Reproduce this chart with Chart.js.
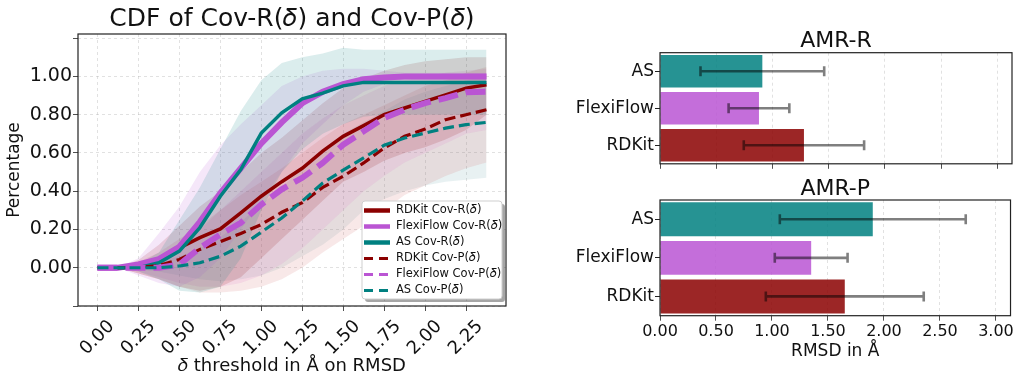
<!DOCTYPE html>
<html>
<head>
<meta charset="utf-8">
<script src="https://cdn.jsdelivr.net/npm/chart.js@4.4.1/dist/chart.umd.min.js"></script>
<style>
body { margin:0; background:#fff; width:1016px; height:377px; overflow:hidden; position:relative; }
canvas { position:absolute; }
</style>
</head>
<body>
<canvas id="cdf" width="520" height="377" style="left:0;top:0"></canvas>
<canvas id="amrR" width="456" height="175" style="left:560px;top:0"></canvas>
<canvas id="amrP" width="456" height="202" style="left:560px;top:175px"></canvas>
<script>
// thresholds (Å) and CDF curves
var thresholds = [0,0.125,0.25,0.375,0.5,0.625,0.75,0.875,1.0,1.125,1.25,1.375,1.5,1.625,1.75,1.875,2.0,2.125,2.25,2.375];
var rdkitR = [0,0,0.005,0.043,0.104,0.157,0.203,0.287,0.374,0.45,0.52,0.61,0.687,0.743,0.80,0.835,0.87,0.904,0.939,0.957];
var flexiR = [0,0,0.017,0.045,0.11,0.24,0.39,0.52,0.65,0.76,0.86,0.92,0.96,0.985,0.995,1,1,1,1,1];
var asR    = [0,0,0,0.026,0.087,0.21,0.374,0.513,0.704,0.81,0.883,0.913,0.951,0.969,0.969,0.969,0.969,0.969,0.969,0.969];
var rdkitP = [0,0,0,0.012,0.043,0.096,0.136,0.179,0.226,0.29,0.34,0.42,0.478,0.548,0.626,0.687,0.725,0.774,0.80,0.826];
var flexiP = [0,0,0,0,0.017,0.104,0.174,0.235,0.33,0.41,0.47,0.548,0.643,0.713,0.783,0.826,0.861,0.887,0.917,0.92];
var asP    = [0,0,0,0,0.009,0.026,0.06,0.113,0.186,0.26,0.348,0.443,0.51,0.575,0.64,0.678,0.704,0.73,0.748,0.76];

// spread bands (upper / lower)
var asRHi    = [0,0,0.02,0.08,0.25,0.42,0.62,0.82,0.98,1.07,1.1,1.12,1.15,1.14,1.14,1.14,1.14,1.14,1.14,1.14];
var asRLo    = [0,0,-0.02,-0.06,-0.12,-0.13,-0.1,0.05,0.3,0.5,0.62,0.7,0.75,0.79,0.8,0.8,0.8,0.8,0.8,0.8];
var flexiRHi = [0,0,0.05,0.18,0.32,0.5,0.64,0.75,0.85,0.95,1.0,1.03,1.04,1.04,1.03,1.02,1.02,1.02,1.02,1.02];
var flexiRLo = [0,0,-0.04,-0.08,-0.1,-0.05,0.05,0.2,0.35,0.5,0.65,0.75,0.85,0.92,0.96,0.98,0.98,0.98,0.98,0.98];
var rdkitRHi = [0,0,0.04,0.12,0.22,0.32,0.4,0.5,0.6,0.68,0.77,0.86,0.94,0.99,1.03,1.06,1.08,1.09,1.1,1.1];
var rdkitRLo = [0,0,-0.03,-0.06,-0.1,-0.12,-0.1,-0.05,0.05,0.15,0.25,0.35,0.45,0.5,0.56,0.6,0.63,0.67,0.72,0.8];
var rdkitPHi = [0,0,0.03,0.08,0.15,0.22,0.3,0.38,0.45,0.52,0.6,0.68,0.75,0.8,0.85,0.9,0.95,0.98,1.02,1.05];
var rdkitPLo = [0,0,-0.03,-0.06,-0.1,-0.13,-0.13,-0.12,-0.1,-0.06,0.0,0.08,0.15,0.22,0.3,0.38,0.43,0.48,0.52,0.55];
var flexiPHi = [0,0,0.02,0.06,0.12,0.2,0.3,0.4,0.5,0.6,0.7,0.78,0.85,0.9,0.95,0.98,1.0,1.02,1.03,1.04];
var flexiPLo = [0,0,-0.02,-0.05,-0.08,-0.1,-0.1,-0.08,-0.04,0.02,0.1,0.2,0.3,0.4,0.48,0.55,0.6,0.65,0.7,0.72];
var asPHi    = [0,0,0.01,0.03,0.06,0.1,0.16,0.24,0.33,0.42,0.52,0.62,0.7,0.76,0.82,0.88,0.92,0.95,0.98,1.0];
var asPLo    = [0,0,-0.01,-0.02,-0.04,-0.06,-0.07,-0.06,-0.04,0.0,0.06,0.12,0.2,0.3,0.36,0.4,0.43,0.45,0.46,0.47];

var xTicks = [0,0.25,0.5,0.75,1.0,1.25,1.5,1.75,2.0,2.25];
var yTicks = [-0.2,0,0.2,0.4,0.6,0.8,1.0,1.2];

// AMR bars
var methods = ['AS','FlexiFlow','RDKit'];
var amrR = [0.91, 0.88, 1.28];
var amrRStd = [0.55, 0.27, 0.535];
var amrP = [1.90, 1.35, 1.65];
var amrPStd = [0.83, 0.325, 0.705];
var rmsdTicks = [0,0.5,1.0,1.5,2.0,2.5,3.0];

var RED = '#8b0000', ORCHID = '#ba55d3', TEAL = '#008080';
var D = '𝛿';

Chart.defaults.font.family = '"DejaVu Sans", sans-serif';
Chart.defaults.color = '#111';
Chart.defaults.animation = false;

function pts(arr) { return thresholds.map(function(t, i) { return {x: t, y: arr[i]}; }); }

function line(label, arr, color, width, dash, order, lw) {
  return { label: label, data: pts(arr), borderColor: color, borderWidth: width, borderDash: dash,
           pointRadius: 0, fill: false, tension: 0, order: order, inLegend: true, legendWidth: lw };
}
function band(hi, lo, rgb) {
  return [
    { label: '_hi', data: pts(hi), borderWidth: 0, pointRadius: 0, fill: '+1', backgroundColor: 'rgba(' + rgb + ',0.14)', order: 10 },
    { label: '_lo', data: pts(lo), borderWidth: 0, pointRadius: 0, fill: false, order: 10 }
  ];
}

var frameBox = {
  id: 'frameBox',
  afterDraw: function(chart) {
    var a = chart.chartArea, ctx = chart.ctx;
    ctx.save();
    ctx.strokeStyle = '#222';
    ctx.lineWidth = 1.2;
    ctx.strokeRect(a.left, a.top, a.right - a.left, a.bottom - a.top);
    ctx.restore();
  }
};

var cdfLegend = {
  id: 'cdfLegend',
  afterDraw: function(chart) {
    var ctx = chart.ctx;
    var items = chart.data.datasets.filter(function(d) { return d.inLegend; });
    var x0 = 362, y0 = 201, w = 140, h = 98;
    ctx.save();
    ctx.fillStyle = 'rgba(0,0,0,0.35)';
    ctx.beginPath(); ctx.roundRect(x0 + 3, y0 + 3, w, h, 3); ctx.fill();
    ctx.fillStyle = '#fff';
    ctx.strokeStyle = '#cfcfcf';
    ctx.lineWidth = 1;
    ctx.beginPath(); ctx.roundRect(x0, y0, w, h, 3); ctx.fill(); ctx.stroke();
    ctx.font = '11.5px "DejaVu Sans"';
    ctx.textBaseline = 'middle';
    items.forEach(function(d, i) {
      var y = y0 + 9.5 + i * 16;
      ctx.strokeStyle = d.borderColor;
      ctx.lineWidth = d.legendWidth;
      ctx.setLineDash(d.borderDash.length ? [9, 6] : []);
      ctx.beginPath(); ctx.moveTo(x0 + 2, y); ctx.lineTo(x0 + 28, y); ctx.stroke();
      ctx.setLineDash([]);
      ctx.fillStyle = '#111';
      ctx.fillText(d.label, x0 + 34, y);
    });
    ctx.restore();
  }
};

var errorBars = {
  id: 'errorBars',
  afterDatasetsDraw: function(chart) {
    var ds = chart.data.datasets[0];
    var xs = chart.scales.x, ys = chart.scales.y, ctx = chart.ctx;
    ctx.save();
    ctx.strokeStyle = 'rgba(0,0,0,0.5)';
    ctx.lineWidth = 2.6;
    ctx.beginPath();
    ds.data.forEach(function(v, i) {
      var y = ys.getPixelForValue(i);
      var x1 = xs.getPixelForValue(v - ds.errors[i]);
      var x2 = xs.getPixelForValue(v + ds.errors[i]);
      ctx.moveTo(x1, y); ctx.lineTo(x2, y);
      ctx.moveTo(x1, y - 5); ctx.lineTo(x1, y + 5);
      ctx.moveTo(x2, y - 5); ctx.lineTo(x2, y + 5);
    });
    ctx.stroke();
    ctx.restore();
  }
};

var gridStyle = { color: 'rgba(170,170,170,0.45)', tickColor: '#222', tickLength: 5, lineWidth: 0.8 };

new Chart(document.getElementById('cdf'), {
  type: 'line',
  data: {
    datasets: [
      line('RDKit Cov-R(' + D + ')', rdkitR, RED, 3.5, [], 6, 4.5),
      line('FlexiFlow Cov-R(' + D + ')', flexiR, ORCHID, 6, [], 5, 4.5),
      line('AS Cov-R(' + D + ')', asR, TEAL, 3.5, [], 4, 4.5),
      line('RDKit Cov-P(' + D + ')', rdkitP, RED, 3.2, [11, 5], 3, 3.2),
      line('FlexiFlow Cov-P(' + D + ')', flexiP, ORCHID, 6, [20, 8], 2, 3.2),
      line('AS Cov-P(' + D + ')', asP, TEAL, 3.2, [11, 5], 1, 3.2)
    ].concat(band(asRHi, asRLo, '0,128,128'), band(flexiRHi, flexiRLo, '186,85,211'),
             band(rdkitRHi, rdkitRLo, '139,0,0'), band(rdkitPHi, rdkitPLo, '205,92,92'),
             band(flexiPHi, flexiPLo, '218,112,214'), band(asPHi, asPLo, '95,158,160'))
  },
  options: {
    responsive: false,
    layout: { padding: { left: 0, right: 14, top: 0, bottom: 0 } },
    plugins: {
      legend: { display: false },
      tooltip: { enabled: false },
      title: { display: true, fullSize: false, text: 'CDF of Cov-R(' + D + ') and Cov-P(' + D + ')',
               font: { size: 25, weight: 'normal' }, color: '#111', padding: { top: 4, bottom: 0 } }
    },
    scales: {
      x: {
        type: 'linear', min: -0.119, max: 2.494,
        afterBuildTicks: function(s) { s.ticks = xTicks.map(function(v) { return {value: v}; }); },
        ticks: { autoSkip: false, minRotation: 45, maxRotation: 45, labelOffset: 14, padding: 5,
                 font: { size: 18 }, callback: function(v) { return v.toFixed(2); } },
        grid: gridStyle,
        border: { display: false, dash: [3, 3] },
        title: { display: true, text: D + ' threshold in Å on RMSD', font: { size: 18 }, padding: { top: 0, bottom: 0 } },
        afterFit: function(s) { s.height = 71; }
      },
      y: {
        min: -0.2, max: 1.222,
        afterBuildTicks: function(s) { s.ticks = yTicks.map(function(v) { return {value: v}; }); },
        ticks: { padding: 1, font: { size: 19 },
                 callback: function(v) { return (v < -0.01 || v > 1.01) ? '' : v.toFixed(2); } },
        grid: gridStyle,
        border: { display: false, dash: [3, 3] },
        title: { display: true, text: 'Percentage', font: { size: 17 }, padding: { top: 4, bottom: 0 } },
        afterFit: function(s) { s.width = 78; }
      }
    }
  },
  plugins: [frameBox, cdfLegend]
});

function amrChart(id, title, vals, errs, showX, padTop, xHeight) {
  new Chart(document.getElementById(id), {
    type: 'bar',
    data: {
      labels: methods,
      datasets: [{
        data: vals, errors: errs,
        backgroundColor: ['rgba(0,128,128,0.85)', 'rgba(186,85,211,0.85)', 'rgba(139,0,0,0.85)'],
        barPercentage: 0.88, categoryPercentage: 1
      }]
    },
    options: {
      responsive: false,
      indexAxis: 'y',
      layout: { padding: { left: 0, right: 4, top: padTop, bottom: 0 } },
      plugins: {
        legend: { display: false },
        tooltip: { enabled: false },
        title: { display: true, fullSize: false, text: title, color: '#111',
                 font: { size: 22, weight: 'normal', lineHeight: 1 }, padding: { top: 0, bottom: 0 } }
      },
      scales: {
        x: {
          min: 0, max: 3.13,
          afterBuildTicks: function(s) { s.ticks = rmsdTicks.map(function(v) { return {value: v}; }); },
          ticks: { display: showX, maxRotation: 0, padding: 2, font: { size: 16 },
                   callback: function(v) { return v.toFixed(2); } },
          grid: gridStyle,
          border: { display: false, dash: [3, 3] },
          title: { display: showX, text: 'RMSD in Å', font: { size: 17 }, padding: { top: 0, bottom: 15 } },
          afterFit: function(s) { s.height = xHeight; }
        },
        y: {
          offset: true,
          grid: { drawOnChartArea: false, offset: false, tickColor: '#222', tickLength: 5 },
          ticks: { padding: 1, font: { size: 17 } },
          border: { display: false },
          afterFit: function(s) { s.width = 100; }
        }
      }
    },
    plugins: [frameBox, errorBars]
  });
}

amrChart('amrR', 'AMR-R', amrR, amrRStd, false, 30.7, 8.3);
amrChart('amrP', 'AMR-P', amrP, amrPStd, true, 3, 61.3);
</script>
</body>
</html>
